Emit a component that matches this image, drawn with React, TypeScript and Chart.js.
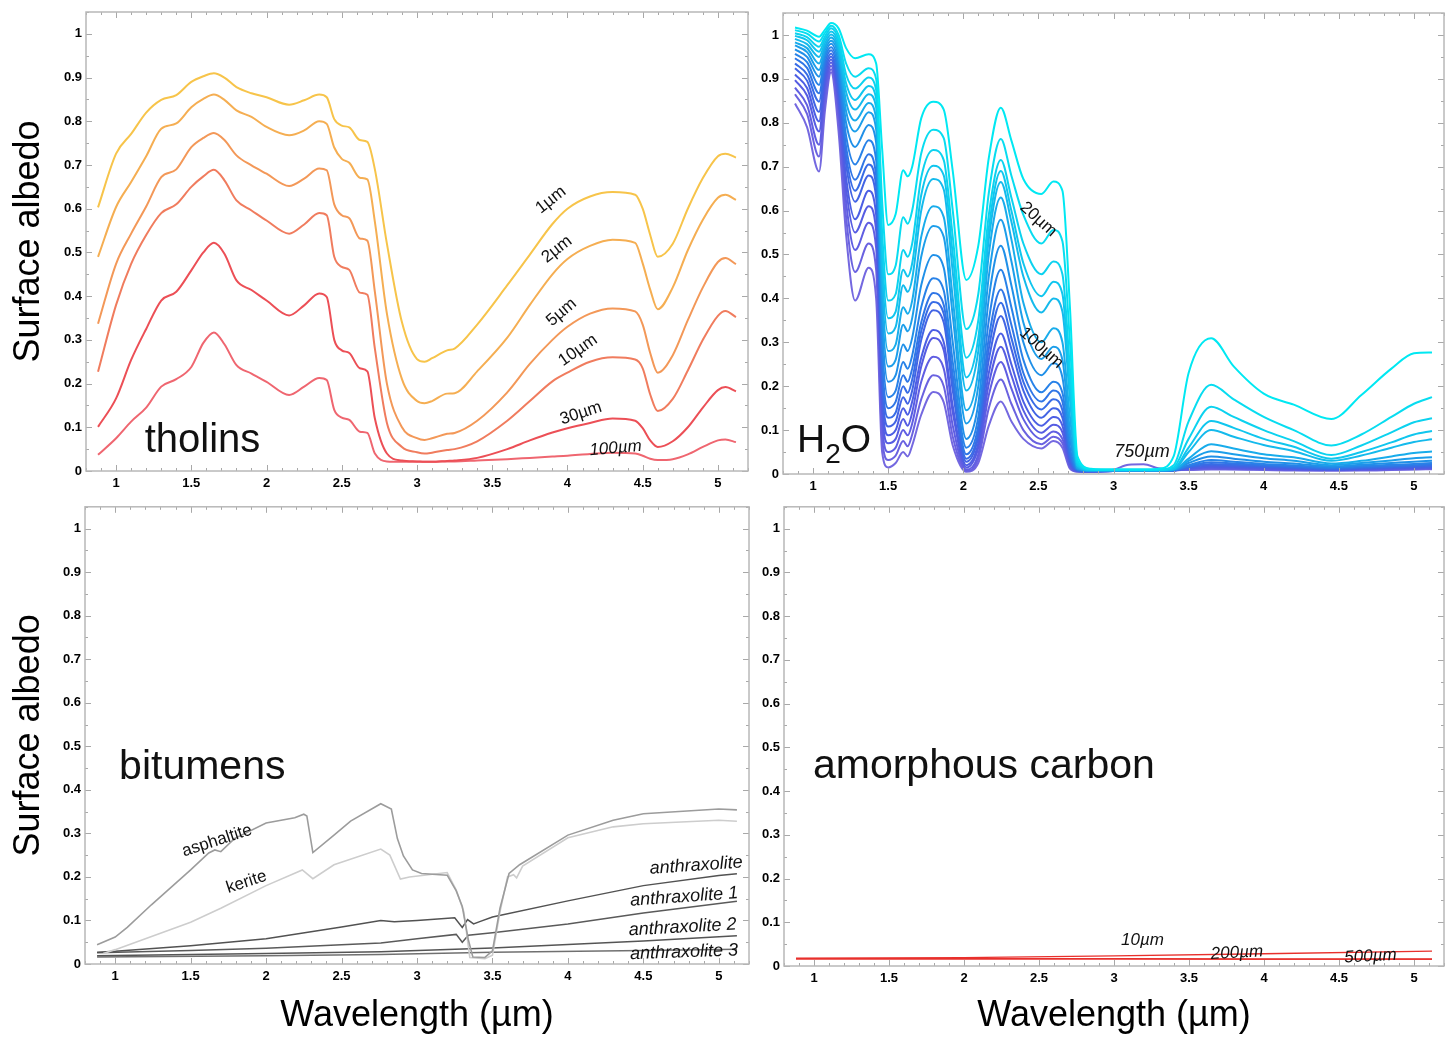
import React, { useEffect, useRef } from 'react';
import { Chart, registerables } from 'chart.js';

Chart.register(...registerables);

const FONT = '"Liberation Sans", Arial, Helvetica, sans-serif';

// ---------- axes ----------
const X_TICKS = [1, 1.5, 2, 2.5, 3, 3.5, 4, 4.5, 5];
const Y_TICKS = [0, 0.1, 0.2, 0.3, 0.4, 0.5, 0.6, 0.7, 0.8, 0.9, 1];
const X_MIN = 0.8;
const X_MAX = 5.2;
const Y_MIN = 0;
const Y_MAX = 1.05;
const X_TITLE = 'Wavelength (µm)';
const Y_TITLE = 'Surface albedo';

// ---------- tholins ----------
const THOLIN_WL = [0.88, 1.0, 1.1, 1.2, 1.3, 1.4, 1.5, 1.58, 1.65, 1.72, 1.8, 1.9, 2.0, 2.15, 2.25, 2.35, 2.4, 2.45, 2.5, 2.55, 2.62, 2.67, 2.72, 2.8, 2.9, 3.0, 3.05, 3.1, 3.2, 3.25, 3.4, 3.6, 3.75, 3.9, 4.0, 4.15, 4.3, 4.45, 4.5, 4.55, 4.6, 4.7, 4.8, 4.9, 5.0, 5.05, 5.12];
const THOLIN_1UM = [0.603, 0.726, 0.771, 0.82, 0.849, 0.86, 0.89, 0.903, 0.91, 0.9, 0.878, 0.864, 0.855, 0.838, 0.848, 0.861, 0.855, 0.805, 0.79, 0.786, 0.757, 0.753, 0.69, 0.52, 0.34, 0.256, 0.25, 0.258, 0.276, 0.28, 0.335, 0.425, 0.495, 0.565, 0.6, 0.628, 0.638, 0.632, 0.6, 0.54, 0.49, 0.52, 0.6, 0.67, 0.72, 0.726, 0.717];
const THOLIN_2UM = [0.49, 0.604, 0.661, 0.72, 0.783, 0.795, 0.832, 0.851, 0.861, 0.849, 0.825, 0.81, 0.787, 0.768, 0.779, 0.8, 0.794, 0.74, 0.714, 0.705, 0.671, 0.667, 0.57, 0.36, 0.21, 0.16, 0.155, 0.16, 0.177, 0.178, 0.228, 0.305, 0.38, 0.45, 0.485, 0.515, 0.529, 0.522, 0.475, 0.415, 0.37, 0.42, 0.505, 0.575, 0.625, 0.632, 0.62];
const THOLIN_5UM = [0.337, 0.474, 0.543, 0.605, 0.672, 0.69, 0.741, 0.762, 0.773, 0.757, 0.722, 0.699, 0.68, 0.652, 0.669, 0.692, 0.688, 0.61, 0.585, 0.578, 0.532, 0.527, 0.41, 0.2, 0.1, 0.075, 0.071, 0.075, 0.085, 0.087, 0.115, 0.18, 0.245, 0.3, 0.33, 0.36, 0.372, 0.365, 0.335, 0.27, 0.225, 0.265, 0.345, 0.42, 0.478, 0.487, 0.473];
const THOLIN_10UM = [0.227, 0.38, 0.474, 0.54, 0.59, 0.61, 0.65, 0.674, 0.689, 0.665, 0.619, 0.596, 0.573, 0.543, 0.564, 0.59, 0.585, 0.49, 0.467, 0.46, 0.408, 0.403, 0.28, 0.11, 0.055, 0.043, 0.04, 0.042, 0.048, 0.05, 0.068, 0.115, 0.16, 0.205, 0.225, 0.25, 0.26, 0.255, 0.235, 0.175, 0.137, 0.165, 0.23, 0.3, 0.355, 0.366, 0.352];
const THOLIN_30UM = [0.101, 0.166, 0.254, 0.325, 0.39, 0.41, 0.459, 0.5, 0.522, 0.497, 0.436, 0.414, 0.39, 0.356, 0.379, 0.406, 0.398, 0.3, 0.276, 0.27, 0.235, 0.228, 0.12, 0.04, 0.024, 0.022, 0.021, 0.021, 0.023, 0.024, 0.03, 0.05, 0.07, 0.088, 0.098, 0.11, 0.12, 0.115, 0.098, 0.07, 0.055, 0.068, 0.1, 0.145, 0.185, 0.192, 0.182];
const THOLIN_100UM = [0.037, 0.075, 0.113, 0.145, 0.193, 0.21, 0.238, 0.293, 0.317, 0.29, 0.242, 0.223, 0.204, 0.174, 0.193, 0.213, 0.208, 0.14, 0.122, 0.117, 0.09, 0.087, 0.04, 0.022, 0.021, 0.021, 0.021, 0.021, 0.022, 0.022, 0.024, 0.027, 0.03, 0.033, 0.035, 0.039, 0.042, 0.04, 0.035, 0.028, 0.025, 0.027, 0.038, 0.055, 0.07, 0.072, 0.066];

// ---------- H2O (17 grain sizes, 20 µm ... 750 µm) ----------
const H2O_WL = [0.88, 0.96, 1.04, 1.08, 1.12, 1.17, 1.22, 1.28, 1.37, 1.42, 1.46, 1.5, 1.55, 1.6, 1.63, 1.66, 1.72, 1.8, 1.87, 1.93, 2.02, 2.1, 2.17, 2.25, 2.32, 2.4, 2.52, 2.6, 2.66, 2.71, 2.76, 2.85, 3.0, 3.1, 3.2, 3.3, 3.4, 3.5, 3.65, 3.8, 4.0, 4.2, 4.45, 4.65, 4.85, 5.0, 5.12];
const H2O_C00 = [1.017, 1.010, 0.996, 1.012, 1.027, 1.015, 0.970, 0.947, 0.956, 0.935, 0.740, 0.567, 0.592, 0.692, 0.678, 0.700, 0.810, 0.848, 0.830, 0.690, 0.442, 0.520, 0.720, 0.834, 0.760, 0.672, 0.638, 0.666, 0.645, 0.380, 0.040, 0.012, 0.010, 0.010, 0.010, 0.012, 0.040, 0.230, 0.309, 0.245, 0.183, 0.158, 0.125, 0.180, 0.240, 0.275, 0.277];
const H2O_C01 = [1.011, 1.003, 0.985, 1.005, 1.021, 1.000, 0.935, 0.905, 0.924, 0.900, 0.620, 0.455, 0.475, 0.585, 0.570, 0.600, 0.730, 0.784, 0.765, 0.600, 0.330, 0.410, 0.640, 0.763, 0.680, 0.590, 0.525, 0.556, 0.530, 0.300, 0.030, 0.011, 0.010, 0.010, 0.010, 0.010, 0.020, 0.120, 0.203, 0.170, 0.130, 0.100, 0.065, 0.090, 0.130, 0.160, 0.175];
const H2O_C02 = [1.004, 0.995, 0.973, 0.997, 1.015, 0.990, 0.910, 0.878, 0.903, 0.875, 0.550, 0.395, 0.410, 0.510, 0.495, 0.525, 0.675, 0.738, 0.715, 0.540, 0.265, 0.350, 0.590, 0.715, 0.630, 0.525, 0.455, 0.484, 0.455, 0.240, 0.025, 0.010, 0.009, 0.009, 0.009, 0.009, 0.015, 0.080, 0.153, 0.130, 0.100, 0.075, 0.043, 0.065, 0.095, 0.118, 0.127];
const H2O_C03 = [0.998, 0.988, 0.962, 0.990, 1.008, 0.980, 0.890, 0.852, 0.884, 0.855, 0.500, 0.355, 0.370, 0.465, 0.450, 0.480, 0.635, 0.702, 0.680, 0.500, 0.220, 0.310, 0.560, 0.690, 0.600, 0.480, 0.405, 0.438, 0.410, 0.200, 0.020, 0.009, 0.009, 0.009, 0.009, 0.009, 0.012, 0.060, 0.121, 0.105, 0.080, 0.062, 0.035, 0.050, 0.072, 0.090, 0.098];
const H2O_C04 = [0.991, 0.979, 0.950, 0.982, 1.001, 0.970, 0.870, 0.830, 0.865, 0.835, 0.460, 0.320, 0.335, 0.430, 0.415, 0.445, 0.600, 0.672, 0.648, 0.460, 0.190, 0.280, 0.535, 0.665, 0.575, 0.450, 0.368, 0.400, 0.370, 0.170, 0.018, 0.009, 0.009, 0.009, 0.009, 0.009, 0.011, 0.050, 0.100, 0.085, 0.066, 0.052, 0.030, 0.042, 0.060, 0.073, 0.079];
const H2O_C05 = [0.983, 0.970, 0.935, 0.974, 0.994, 0.960, 0.848, 0.805, 0.845, 0.810, 0.420, 0.280, 0.295, 0.380, 0.365, 0.395, 0.540, 0.610, 0.585, 0.400, 0.145, 0.235, 0.500, 0.630, 0.535, 0.390, 0.300, 0.332, 0.300, 0.130, 0.015, 0.008, 0.008, 0.008, 0.008, 0.008, 0.010, 0.035, 0.068, 0.058, 0.045, 0.038, 0.024, 0.030, 0.040, 0.048, 0.051];
const H2O_C06 = [0.976, 0.961, 0.920, 0.966, 0.987, 0.950, 0.826, 0.780, 0.824, 0.785, 0.380, 0.245, 0.260, 0.340, 0.325, 0.355, 0.495, 0.565, 0.540, 0.360, 0.115, 0.200, 0.450, 0.579, 0.485, 0.345, 0.262, 0.290, 0.260, 0.100, 0.013, 0.008, 0.008, 0.008, 0.008, 0.008, 0.010, 0.030, 0.052, 0.045, 0.036, 0.030, 0.020, 0.025, 0.031, 0.036, 0.038];
const H2O_C07 = [0.967, 0.950, 0.905, 0.957, 0.980, 0.935, 0.800, 0.745, 0.795, 0.755, 0.340, 0.210, 0.225, 0.295, 0.280, 0.310, 0.430, 0.499, 0.470, 0.300, 0.080, 0.160, 0.400, 0.520, 0.430, 0.300, 0.225, 0.252, 0.220, 0.080, 0.011, 0.007, 0.008, 0.008, 0.008, 0.008, 0.009, 0.025, 0.040, 0.035, 0.028, 0.024, 0.017, 0.021, 0.025, 0.028, 0.030];
const H2O_C08 = [0.957, 0.938, 0.886, 0.948, 0.972, 0.920, 0.770, 0.705, 0.760, 0.715, 0.300, 0.175, 0.190, 0.255, 0.240, 0.270, 0.380, 0.446, 0.418, 0.255, 0.060, 0.130, 0.350, 0.465, 0.380, 0.260, 0.186, 0.210, 0.185, 0.060, 0.010, 0.007, 0.008, 0.008, 0.008, 0.008, 0.009, 0.020, 0.032, 0.028, 0.023, 0.020, 0.015, 0.018, 0.021, 0.023, 0.025];
const H2O_C09 = [0.947, 0.925, 0.867, 0.938, 0.965, 0.905, 0.745, 0.670, 0.728, 0.680, 0.260, 0.150, 0.165, 0.225, 0.210, 0.240, 0.345, 0.412, 0.385, 0.225, 0.045, 0.110, 0.310, 0.420, 0.340, 0.230, 0.165, 0.190, 0.165, 0.050, 0.009, 0.007, 0.007, 0.007, 0.007, 0.007, 0.008, 0.018, 0.027, 0.024, 0.020, 0.017, 0.013, 0.016, 0.018, 0.020, 0.022];
const H2O_C10 = [0.935, 0.910, 0.848, 0.927, 0.958, 0.890, 0.725, 0.645, 0.705, 0.655, 0.230, 0.128, 0.140, 0.200, 0.185, 0.215, 0.325, 0.392, 0.365, 0.205, 0.035, 0.095, 0.285, 0.390, 0.310, 0.210, 0.147, 0.170, 0.145, 0.040, 0.008, 0.006, 0.007, 0.007, 0.007, 0.007, 0.008, 0.016, 0.023, 0.021, 0.018, 0.015, 0.012, 0.014, 0.016, 0.018, 0.019];
const H2O_C11 = [0.924, 0.896, 0.825, 0.915, 0.951, 0.875, 0.705, 0.620, 0.680, 0.630, 0.200, 0.108, 0.120, 0.175, 0.160, 0.190, 0.305, 0.373, 0.345, 0.190, 0.028, 0.085, 0.260, 0.360, 0.285, 0.190, 0.128, 0.150, 0.128, 0.035, 0.008, 0.006, 0.007, 0.007, 0.007, 0.007, 0.008, 0.015, 0.020, 0.018, 0.016, 0.014, 0.011, 0.013, 0.015, 0.016, 0.017];
const H2O_C12 = [0.910, 0.879, 0.803, 0.902, 0.944, 0.860, 0.675, 0.580, 0.645, 0.590, 0.170, 0.088, 0.100, 0.150, 0.135, 0.165, 0.265, 0.328, 0.300, 0.155, 0.020, 0.070, 0.230, 0.320, 0.250, 0.165, 0.110, 0.130, 0.110, 0.028, 0.007, 0.006, 0.007, 0.007, 0.007, 0.007, 0.008, 0.013, 0.017, 0.016, 0.014, 0.012, 0.010, 0.012, 0.013, 0.014, 0.015];
const H2O_C13 = [0.897, 0.862, 0.780, 0.888, 0.937, 0.845, 0.650, 0.550, 0.610, 0.555, 0.140, 0.070, 0.080, 0.125, 0.110, 0.140, 0.245, 0.310, 0.282, 0.140, 0.015, 0.060, 0.205, 0.290, 0.225, 0.145, 0.094, 0.112, 0.095, 0.022, 0.007, 0.006, 0.007, 0.007, 0.007, 0.007, 0.008, 0.012, 0.015, 0.014, 0.012, 0.011, 0.009, 0.011, 0.012, 0.013, 0.014];
const H2O_C14 = [0.880, 0.840, 0.750, 0.870, 0.930, 0.830, 0.620, 0.510, 0.572, 0.515, 0.110, 0.050, 0.060, 0.100, 0.088, 0.115, 0.210, 0.267, 0.240, 0.110, 0.010, 0.045, 0.180, 0.255, 0.195, 0.125, 0.080, 0.097, 0.080, 0.018, 0.006, 0.005, 0.007, 0.007, 0.007, 0.007, 0.008, 0.011, 0.013, 0.012, 0.011, 0.010, 0.009, 0.010, 0.011, 0.012, 0.013];
const H2O_C15 = [0.865, 0.820, 0.723, 0.852, 0.922, 0.810, 0.585, 0.460, 0.525, 0.465, 0.080, 0.032, 0.042, 0.075, 0.063, 0.090, 0.170, 0.225, 0.200, 0.085, 0.007, 0.035, 0.150, 0.215, 0.160, 0.100, 0.068, 0.085, 0.070, 0.015, 0.006, 0.005, 0.007, 0.007, 0.007, 0.007, 0.008, 0.010, 0.012, 0.011, 0.010, 0.009, 0.008, 0.009, 0.010, 0.011, 0.012];
const H2O_C16 = [0.844, 0.790, 0.689, 0.830, 0.915, 0.780, 0.545, 0.395, 0.470, 0.400, 0.050, 0.015, 0.025, 0.050, 0.040, 0.065, 0.135, 0.187, 0.163, 0.065, 0.005, 0.025, 0.110, 0.165, 0.120, 0.080, 0.058, 0.075, 0.060, 0.012, 0.005, 0.005, 0.010, 0.021, 0.022, 0.013, 0.009, 0.009, 0.010, 0.010, 0.009, 0.008, 0.008, 0.008, 0.009, 0.010, 0.011];

// ---------- bitumens ----------
const ASPH_WL = [0.88, 1.0, 1.08, 1.24, 1.5, 1.62, 1.66, 1.7, 1.79, 2.0, 2.19, 2.25, 2.27, 2.31, 2.45, 2.56, 2.76, 2.83, 2.87, 2.91, 2.97, 3.03, 3.2, 3.26, 3.3, 3.34, 3.37, 3.45, 3.5, 3.55, 3.61, 3.68, 4.0, 4.3, 4.5, 5.0, 5.12];
const ASPHALTITE = [0.044, 0.062, 0.084, 0.136, 0.216, 0.255, 0.262, 0.258, 0.288, 0.324, 0.336, 0.344, 0.34, 0.256, 0.296, 0.328, 0.368, 0.356, 0.288, 0.248, 0.216, 0.208, 0.204, 0.168, 0.132, 0.056, 0.016, 0.015, 0.03, 0.128, 0.208, 0.228, 0.296, 0.33, 0.345, 0.356, 0.354];
const KER_WL = [0.92, 1.0, 1.5, 1.7, 2.0, 2.24, 2.31, 2.45, 2.76, 2.82, 2.89, 2.95, 3.2, 3.26, 3.31, 3.35, 3.45, 3.5, 3.55, 3.6, 3.64, 3.66, 3.7, 4.0, 4.3, 4.5, 5.0, 5.12];
const KERITE = [0.024, 0.033, 0.096, 0.128, 0.18, 0.216, 0.196, 0.228, 0.264, 0.25, 0.195, 0.2, 0.21, 0.17, 0.12, 0.015, 0.012, 0.02, 0.12, 0.2, 0.205, 0.198, 0.225, 0.29, 0.315, 0.322, 0.33, 0.328];
const ANTH_WL = [0.88, 1.0, 1.5, 2.0, 2.5, 2.76, 2.85, 3.0, 3.25, 3.3, 3.335, 3.375, 3.42, 3.5, 4.0, 4.5, 5.0, 5.12];
const ANTHRAXOLITE = [0.027, 0.029, 0.042, 0.058, 0.085, 0.1, 0.097, 0.1, 0.106, 0.084, 0.102, 0.092, 0.098, 0.108, 0.145, 0.18, 0.203, 0.207];
const ANTH1_WL = [0.88, 1.5, 2.0, 2.5, 2.76, 3.0, 3.26, 3.3, 3.34, 3.5, 4.0, 4.5, 5.12];
const ANTHRAXOLITE_1 = [0.026, 0.031, 0.036, 0.044, 0.048, 0.058, 0.068, 0.05, 0.066, 0.072, 0.092, 0.117, 0.144];
const ANTH23_WL = [0.88, 2.0, 2.76, 3.5, 4.5, 5.12];
const ANTHRAXOLITE_2 = [0.019, 0.024, 0.028, 0.037, 0.053, 0.065];
const ANTHRAXOLITE_3 = [0.016, 0.019, 0.022, 0.027, 0.031, 0.034];

// ---------- amorphous carbon ----------
const AC_WL = [0.88, 2.0, 3.0, 4.0, 5.12];
const AC_10UM = [0.018, 0.019, 0.023, 0.028, 0.034];
const AC_200UM = [0.017, 0.017, 0.017, 0.016, 0.016];
const AC_500UM = [0.016, 0.016, 0.016, 0.015, 0.015];

// ---------- styles ----------
const H2O_COLORS = ['#00e8f2', '#08dcf0', '#0cd2ef', '#10c6ee', '#14baec', '#18aceb', '#1c9eea', '#2090e8', '#2882e8', '#3076e6', '#386ce6', '#4264e4', '#4c5ee4', '#565ce2', '#605ee2', '#6a62e0', '#7468e0'];

type Series = { wl: number[]; values: number[]; color: string; width: number; smooth: boolean };
type Part = { t: string; size: number; dy: number };
type Note = { text?: string; parts?: Part[]; x: number; y: number; rot?: number; size?: number; italic?: boolean; align?: CanvasTextAlign; baseline?: CanvasTextBaseline };

const THOLIN_SERIES: Series[] = [
  { wl: THOLIN_WL, values: THOLIN_1UM, color: '#f7c44a', width: 2, smooth: true },
  { wl: THOLIN_WL, values: THOLIN_2UM, color: '#f5ae52', width: 2, smooth: true },
  { wl: THOLIN_WL, values: THOLIN_5UM, color: '#f39858', width: 2, smooth: true },
  { wl: THOLIN_WL, values: THOLIN_10UM, color: '#f07c5e', width: 2, smooth: true },
  { wl: THOLIN_WL, values: THOLIN_30UM, color: '#ec4f56', width: 2, smooth: true },
  { wl: THOLIN_WL, values: THOLIN_100UM, color: '#ef6670', width: 2, smooth: true },
];

const H2O_SERIES: Series[] = [H2O_C00, H2O_C01, H2O_C02, H2O_C03, H2O_C04, H2O_C05, H2O_C06, H2O_C07, H2O_C08, H2O_C09, H2O_C10, H2O_C11, H2O_C12, H2O_C13, H2O_C14, H2O_C15, H2O_C16].map((v, i) => ({ wl: H2O_WL, values: v, color: H2O_COLORS[i], width: 2, smooth: true }));

const BITUMEN_SERIES: Series[] = [
  { wl: ASPH_WL, values: ASPHALTITE, color: '#9c9c9c', width: 1.6, smooth: false },
  { wl: KER_WL, values: KERITE, color: '#cdcdcd', width: 1.6, smooth: false },
  { wl: ANTH_WL, values: ANTHRAXOLITE, color: '#525252', width: 1.5, smooth: false },
  { wl: ANTH1_WL, values: ANTHRAXOLITE_1, color: '#5a5a5a', width: 1.5, smooth: false },
  { wl: ANTH23_WL, values: ANTHRAXOLITE_2, color: '#555555', width: 1.5, smooth: false },
  { wl: ANTH23_WL, values: ANTHRAXOLITE_3, color: '#707070', width: 1.5, smooth: false },
];

const CARBON_SERIES: Series[] = [
  { wl: AC_WL, values: AC_10UM, color: '#e8302c', width: 1.3, smooth: false },
  { wl: AC_WL, values: AC_200UM, color: '#e8302c', width: 1.3, smooth: false },
  { wl: AC_WL, values: AC_500UM, color: '#ec4a46', width: 1.3, smooth: false },
];

const THOLIN_NOTES: Note[] = [
  { text: '1µm', x: 3.89, y: 0.62, rot: -38, size: 17 },
  { text: '2µm', x: 3.93, y: 0.507, rot: -38, size: 17 },
  { text: '5µm', x: 3.96, y: 0.363, rot: -40, size: 17 },
  { text: '10µm', x: 4.07, y: 0.276, rot: -35, size: 17 },
  { text: '30µm', x: 4.09, y: 0.132, rot: -18, size: 17 },
  { text: '100µm', x: 4.32, y: 0.052, rot: -5, size: 17, italic: true },
  { text: 'tholins', x: 1.19, y: 0.043, size: 40, align: 'left', baseline: 'alphabetic' },
];

const H2O_NOTES: Note[] = [
  { text: '20µm', x: 2.5, y: 0.58, rot: 42, size: 17 },
  { text: '100µm', x: 2.52, y: 0.287, rot: 42, size: 17 },
  { text: '750µm', x: 3.19, y: 0.05, size: 18, italic: true },
  { parts: [{ t: 'H', size: 39, dy: 0 }, { t: '2', size: 28, dy: 11 }, { t: 'O', size: 39, dy: 0 }], x: 0.893, y: 0.05 },
];

const BITUMEN_NOTES: Note[] = [
  { text: 'asphaltite', x: 1.675, y: 0.283, rot: -18, size: 17 },
  { text: 'kerite', x: 1.87, y: 0.188, rot: -18, size: 17 },
  { text: 'anthraxolite', x: 4.85, y: 0.226, rot: -4, size: 18, italic: true },
  { text: 'anthraxolite 1', x: 4.77, y: 0.154, rot: -4, size: 18, italic: true },
  { text: 'anthraxolite 2', x: 4.76, y: 0.084, rot: -3, size: 18, italic: true },
  { text: 'anthraxolite 3', x: 4.77, y: 0.027, rot: -2, size: 18, italic: true },
  { text: 'bitumens', x: 1.026, y: 0.425, size: 41, align: 'left', baseline: 'alphabetic' },
];

const CARBON_NOTES: Note[] = [
  { text: '10µm', x: 3.19, y: 0.058, size: 17, italic: true },
  { text: '200µm', x: 3.82, y: 0.03, rot: -3, size: 17, italic: true },
  { text: '500µm', x: 4.71, y: 0.022, rot: -3, size: 17, italic: true },
  { text: 'amorphous carbon', x: 0.993, y: 0.429, size: 41, align: 'left', baseline: 'alphabetic' },
];

function makeFramePlugin(notes: Note[]) {
  return {
    id: 'frameNotes',
    afterDatasetsDraw(chart: any) {
      const { ctx, chartArea: a, scales } = chart;
      const xs = scales.x;
      const ys = scales.y;
      ctx.save();
      ctx.strokeStyle = '#a8a8a8';
      ctx.lineWidth = 1;
      ctx.beginPath();
      for (let k = 8; k <= 52; k++) {
        const px = Math.round(xs.getPixelForValue(k / 10)) + 0.5;
        const len = k % 5 === 0 ? 6 : 3;
        ctx.moveTo(px, a.bottom);
        ctx.lineTo(px, a.bottom - len);
        ctx.moveTo(px, a.top);
        ctx.lineTo(px, a.top + len);
      }
      for (let k = 0; k <= 21; k++) {
        const py = Math.round(ys.getPixelForValue(k * 0.05)) + 0.5;
        const len = k % 2 === 0 ? 6 : 3;
        ctx.moveTo(a.left, py);
        ctx.lineTo(a.left + len, py);
        ctx.moveTo(a.right, py);
        ctx.lineTo(a.right - len, py);
      }
      ctx.stroke();
      ctx.strokeStyle = '#b8b8b8';
      ctx.lineWidth = 1.5;
      ctx.strokeRect(a.left, a.top, a.right - a.left, a.bottom - a.top);

      for (const n of notes) {
        const px = xs.getPixelForValue(n.x);
        const py = ys.getPixelForValue(n.y);
        ctx.save();
        ctx.translate(px, py);
        ctx.rotate(((n.rot || 0) * Math.PI) / 180);
        ctx.fillStyle = '#111111';
        if (n.parts) {
          let cx = 0;
          ctx.textAlign = 'left';
          ctx.textBaseline = 'alphabetic';
          for (const p of n.parts) {
            ctx.font = `${p.size}px ${FONT}`;
            ctx.fillText(p.t, cx, p.dy);
            cx += ctx.measureText(p.t).width;
          }
        } else if (n.text) {
          ctx.font = `${n.italic ? 'italic ' : ''}${n.size || 17}px ${FONT}`;
          ctx.textAlign = n.align || 'center';
          ctx.textBaseline = n.baseline || 'middle';
          ctx.fillText(n.text, 0, 0);
        }
        ctx.restore();
      }
      ctx.restore();
    },
  };
}

type Geom = { x: number; y: number; w: number; h: number; pad: { top: number; right: number; bottom: number; left: number }; yw: number; xh: number };

function Panel({ geom, series, notes, showX, showY }: { geom: Geom; series: Series[]; notes: Note[]; showX: boolean; showY: boolean }) {
  const ref = useRef<HTMLCanvasElement | null>(null);
  useEffect(() => {
    if (!ref.current) return;
    const tickFont = { family: FONT, size: 13, weight: 'bold' as const };
    const chart = new Chart(ref.current, {
      type: 'line',
      data: {
        datasets: series.map((s) => ({
          data: s.wl.map((x, i) => ({ x, y: s.values[i] })),
          borderColor: s.color,
          backgroundColor: s.color,
          borderWidth: s.width,
          pointRadius: 0,
          pointHoverRadius: 0,
          fill: false,
          tension: s.smooth ? 0.4 : 0,
          cubicInterpolationMode: s.smooth ? 'monotone' : 'default',
        })),
      },
      options: {
        animation: false,
        responsive: false,
        maintainAspectRatio: false,
        events: [],
        layout: { padding: geom.pad },
        plugins: { legend: { display: false }, tooltip: { enabled: false }, title: { display: false } },
        scales: {
          x: {
            type: 'linear',
            min: X_MIN,
            max: X_MAX,
            afterBuildTicks: (s: any) => {
              s.ticks = X_TICKS.map((v) => ({ value: v }));
            },
            afterFit: (s: any) => {
              s.height = geom.xh;
            },
            grid: { display: false, drawTicks: false },
            border: { display: false },
            ticks: { autoSkip: false, maxRotation: 0, minRotation: 0, padding: 5, color: '#000', font: tickFont, callback: (v: any) => String(v) },
            title: showX
              ? { display: true, text: X_TITLE, color: '#000', font: { family: FONT, size: 36 }, padding: { top: 0, bottom: 0 } }
              : { display: false },
          },
          y: {
            type: 'linear',
            min: Y_MIN,
            max: Y_MAX,
            afterBuildTicks: (s: any) => {
              s.ticks = Y_TICKS.map((v) => ({ value: v }));
            },
            afterFit: (s: any) => {
              s.width = geom.yw;
            },
            grid: { display: false, drawTicks: false },
            border: { display: false },
            ticks: { autoSkip: false, padding: 4, color: '#000', font: tickFont, callback: (v: any) => String(v) },
            title: showY
              ? { display: true, text: Y_TITLE, color: '#000', font: { family: FONT, size: 36 }, padding: { top: 7, bottom: 0 } }
              : { display: false },
          },
        },
      } as any,
      plugins: [makeFramePlugin(notes)],
    } as any);
    return () => chart.destroy();
  }, []);
  return (
    <canvas
      ref={ref}
      width={geom.w}
      height={geom.h}
      style={{ position: 'absolute', left: geom.x, top: geom.y, width: geom.w, height: geom.h }}
    />
  );
}

const GEOM_TL: Geom = { x: 0, y: 0, w: 752, h: 495, pad: { top: 12, right: 4, bottom: 0, left: 0 }, yw: 86, xh: 24 };
const GEOM_TR: Geom = { x: 752, y: 0, w: 698, h: 495, pad: { top: 13, right: 6, bottom: 0, left: 0 }, yw: 31, xh: 21 };
const GEOM_BL: Geom = { x: 0, y: 495, w: 752, h: 543, pad: { top: 5, right: 3, bottom: 0, left: 0 }, yw: 85, xh: 74 };
const GEOM_BR: Geom = { x: 752, y: 495, w: 698, h: 543, pad: { top: 6, right: 6, bottom: 0, left: 0 }, yw: 32, xh: 72 };

export default function App() {
  return (
    <div style={{ position: 'absolute', left: 0, top: 0, width: 1450, height: 1038, background: '#ffffff', overflow: 'hidden' }}>
      <Panel geom={GEOM_TL} series={THOLIN_SERIES} notes={THOLIN_NOTES} showX={false} showY={true} />
      <Panel geom={GEOM_TR} series={H2O_SERIES} notes={H2O_NOTES} showX={false} showY={false} />
      <Panel geom={GEOM_BL} series={BITUMEN_SERIES} notes={BITUMEN_NOTES} showX={true} showY={true} />
      <Panel geom={GEOM_BR} series={CARBON_SERIES} notes={CARBON_NOTES} showX={true} showY={false} />
    </div>
  );
}
